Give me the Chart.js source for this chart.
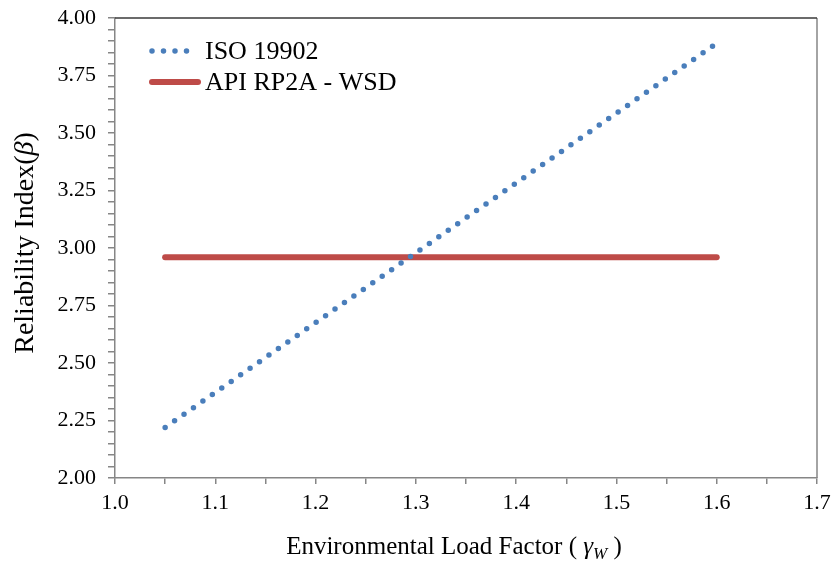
<!DOCTYPE html>
<html>
<head>
<meta charset="utf-8">
<script src="https://cdn.jsdelivr.net/npm/chart.js@4"></script>
<style>
  html, body { margin: 0; padding: 0; background: #fff; }
  #wrap { width: 832px; height: 567px; }
</style>
</head>
<body>
<div id="wrap"><canvas id="relChart" width="832" height="567"></canvas></div>
<script>
// Data
const isoGamma = [1.05, 1.60];
const isoBeta = [2.22, 3.89];
const apiGamma = [1.05, 1.60];
const apiBeta = [2.96, 2.96];
const seriesNames = ["ISO 19902", "API RP2A - WSD"];

const serif = "'Liberation Serif', 'Times New Roman', serif";
const axisGray = "#868686";

// draws frame, legend and the two axis titles (they need italics / subscript)
const extras = {
  id: "extras",
  afterDraw(chart) {
    const ctx = chart.ctx;
    const a = chart.chartArea;
    ctx.save();

    // plot frame (top edge is darker in the original)
    ctx.strokeStyle = axisGray;
    ctx.lineWidth = 1.5;
    ctx.beginPath();
    ctx.moveTo(a.right, a.top);
    ctx.lineTo(a.right, a.bottom);
    ctx.stroke();
    ctx.strokeStyle = "#3a3a3a";
    ctx.beginPath();
    ctx.moveTo(a.left, a.top);
    ctx.lineTo(a.right, a.top);
    ctx.stroke();

    // legend
    const rows = [51, 82];
    chart.data.datasets.forEach((ds, i) => {
      const y = rows[i];
      ctx.beginPath();
      ctx.strokeStyle = ds.borderColor;
      ctx.lineWidth = ds.borderWidth;
      ctx.lineCap = "round";
      ctx.setLineDash(ds.borderDash || []);
      ctx.moveTo(152, y);
      ctx.lineTo(198, y);
      ctx.stroke();
      ctx.setLineDash([]);
      ctx.fillStyle = "#000";
      ctx.font = "26px " + serif;
      ctx.textBaseline = "middle";
      ctx.textAlign = "left";
      ctx.fillText(ds.label, 205, y + 1);
    });

    // x axis title: Environmental Load Factor ( γW )
    ctx.fillStyle = "#000";
    ctx.textBaseline = "alphabetic";
    const parts = [
      { t: "Environmental Load Factor ( ", f: "25px " + serif, dy: 0 },
      { t: "γ", f: "italic 25px " + serif, dy: 0 },
      { t: "W", f: "italic 17px " + serif, dy: 5 },
      { t: " )", f: "25px " + serif, dy: 0 }
    ];
    let total = 0;
    parts.forEach(p => { ctx.font = p.f; p.w = ctx.measureText(p.t).width; total += p.w; });
    let x = 454 - total / 2;
    const base = 554;
    parts.forEach(p => {
      ctx.font = p.f;
      ctx.fillText(p.t, x, base + p.dy);
      x += p.w;
    });

    // y axis title: Reliability Index(β)
    ctx.translate(33, 243);
    ctx.rotate(-Math.PI / 2);
    const yparts = [
      { t: "Reliability Index(", f: "28px " + serif },
      { t: "β", f: "italic 28px " + serif },
      { t: ")", f: "28px " + serif }
    ];
    total = 0;
    yparts.forEach(p => { ctx.font = p.f; p.w = ctx.measureText(p.t).width; total += p.w; });
    x = -total / 2;
    yparts.forEach(p => {
      ctx.font = p.f;
      ctx.fillText(p.t, x, 0);
      x += p.w;
    });
    ctx.restore();
  }
};

const ctx = document.getElementById("relChart").getContext("2d");
const relChart = new Chart(ctx, {
  type: "scatter",
  data: {
    datasets: [
      {
        label: seriesNames[0],
        data: isoGamma.map((g, i) => ({ x: g, y: isoBeta[i] })),
        showLine: true,
        borderColor: "#4a7ebb",
        borderWidth: 5.5,
        borderDash: [0, 11.5],
        borderCapStyle: "round",
        pointRadius: 0
      },
      {
        label: seriesNames[1],
        data: apiGamma.map((g, i) => ({ x: g, y: apiBeta[i] })),
        showLine: true,
        borderColor: "#be4b48",
        borderWidth: 6,
        borderCapStyle: "round",
        pointRadius: 0
      }
    ]
  },
  options: {
    responsive: false,
    animation: false,
    layout: { padding: { top: 18, right: 15, left: 0, bottom: 0 } },
    plugins: {
      legend: { display: false },
      tooltip: { enabled: false }
    },
    scales: {
      x: {
        type: "linear",
        min: 1.0,
        max: 1.7,
        afterFit: (s) => { s.height = 89; s.paddingLeft = 0; s.paddingRight = 0; },
        border: { display: true, color: axisGray, width: 1.5 },
        grid: { drawOnChartArea: false, tickLength: 6, color: axisGray, lineWidth: 1.5 },
        ticks: {
          stepSize: 0.05,
          autoSkip: false,
          maxRotation: 0,
          padding: 6,
          color: "#000",
          font: { family: serif, size: 22 },
          callback: (v) => Math.abs(v * 10 - Math.round(v * 10)) < 1e-6 ? v.toFixed(1) : ""
        }
      },
      y: {
        min: 2.0,
        max: 4.0,
        afterFit: (s) => { s.width = 115; s.paddingTop = 0; s.paddingBottom = 0; },
        border: { display: true, color: axisGray, width: 1.5 },
        grid: { drawOnChartArea: false, tickLength: 7, color: axisGray, lineWidth: 1.5 },
        ticks: {
          stepSize: 0.05,
          autoSkip: false,
          padding: 12,
          color: "#000",
          font: { family: serif, size: 22 },
          callback: (v) => Math.abs(v * 4 - Math.round(v * 4)) < 1e-6 ? v.toFixed(2) : ""
        }
      }
    }
  },
  plugins: [extras]
});
</script>
</body>
</html>
